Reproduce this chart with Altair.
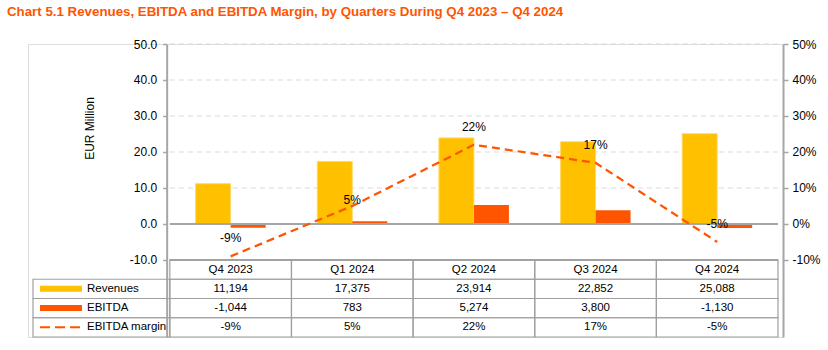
import altair as alt
import pandas as pd

# ---------------- data ----------------
quarters = ["Q4 2023", "Q1 2024", "Q2 2024", "Q3 2024", "Q4 2024"]
revenues = [11194, 17375, 23914, 22852, 25088]      # EUR thousand
ebitda = [-1044, 783, 5274, 3800, -1130]            # EUR thousand
margin = [-9, 5, 22, 17, -5]                        # %
series = ["Revenues", "EBITDA", "EBITDA margin"]
value_ticks = [-10, 0, 10, 20, 30, 40, 50]
title_text = "Chart 5.1 Revenues, EBITDA and EBITDA Margin, by Quarters During Q4 2023 \u2013 Q4 2024"

# ---------------- style / layout ----------------
GOLD = "#FFC000"
ORANGE = "#FF5500"
AXIS_GRAY = "#A6A6A6"
GRID_GRAY = "#D9D9D9"
TABLE_GRAY = "#A0A0A0"
FONT = "Liberation Sans"
TFS = 11.5

W, H = 755, 293
XMIN, XMAX = -1.125, 5          # x in quarter widths; negative part = legend column of table
YMIN, YMAX = -31.4, 50          # value scale continues down through the table
AXIS_OFFSET = -(0 - XMIN) * W / (XMAX - XMIN)
TABLE_TOP = (YMAX - (-10)) / (YMAX - YMIN) * H

xs = alt.Scale(domain=[XMIN, XMAX], nice=False, zero=False)
ys = alt.Scale(domain=[YMIN, YMAX], nice=False, zero=False)

df = pd.DataFrame({
    "quarter": quarters,
    "idx": list(range(len(quarters))),
    "revenues": revenues,
    "ebitda": ebitda,
    "margin": margin,
})

base = alt.Chart(df).transform_calculate(
    xc="datum.idx + 0.5",
    rev_m="datum.revenues / 1000",
    ebit_m="datum.ebitda / 1000",
    mlabel="datum.margin + '%'",
)
X = alt.X("xc:Q", scale=xs, axis=None)

left_axis = alt.Axis(
    values=value_ticks, offset=AXIS_OFFSET, grid=False,
    labelExpr="(datum.value < 0 ? '-' : '') + format(abs(datum.value), '.1f')",
    labelFont=FONT, labelFontSize=12, labelColor="#000000", labelPadding=6,
    tickSize=4, tickColor=AXIS_GRAY, tickWidth=1.5,
    domainColor=AXIS_GRAY, domainWidth=2,
    title="EUR Million", titleFont=FONT, titleFontSize=12, titleFontWeight="normal",
    titleColor="#000000", titleX=-77, titleY=84, titleAngle=270,
    titleBaseline="middle", titleAlign="center",
)
right_axis = alt.Axis(
    orient="right", values=value_ticks, grid=False,
    labelExpr="datum.value + '%'",
    labelFont=FONT, labelFontSize=12, labelColor="#000000", labelPadding=4,
    tickSize=5, tickColor=AXIS_GRAY, tickWidth=1.5,
    domainColor=AXIS_GRAY, domainWidth=2, title=None,
)

ticks_df = pd.DataFrame({"v": value_ticks})
grid_dashed = alt.Chart(ticks_df).transform_filter("datum.v > 0").mark_rule(
    color=GRID_GRAY, strokeDash=[5, 4], strokeWidth=1.2
).encode(
    y=alt.Y("v:Q", scale=ys, axis=left_axis),
    x=alt.X(datum=0, type="quantitative", scale=xs, axis=None),
    x2=alt.datum(5),
)
grid_solid = alt.Chart(ticks_df).transform_filter("datum.v <= 0").mark_rule(
    color=AXIS_GRAY, strokeWidth=2
).encode(
    y=alt.Y("v:Q", scale=ys),
    x=alt.X(datum=0, type="quantitative", scale=xs, axis=None),
    x2=alt.datum(5),
)

bars_rev = base.mark_bar(width=35, xOffset=-17.5, color=GOLD, stroke="#FFD966", strokeWidth=1).encode(
    x=X, y=alt.Y("rev_m:Q", scale=ys), y2=alt.datum(0)
)
bars_ebit = base.mark_bar(width=35, xOffset=17.5, color=ORANGE).encode(
    x=X, y=alt.Y("ebit_m:Q", scale=ys), y2=alt.datum(0)
)

left_group = alt.layer(grid_dashed, bars_rev, bars_ebit, grid_solid)

line = base.mark_line(color=ORANGE, strokeDash=[8, 5], strokeWidth=2.25).encode(
    x=X, y=alt.Y("margin:Q", scale=ys, axis=right_axis)
)
labels_main = base.transform_filter("datum.idx != 1").mark_text(
    dy=-18, font=FONT, fontSize=12, color="#000000"
).encode(x=X, y=alt.Y("margin:Q", scale=ys), text="mlabel:N")
labels_q1 = base.transform_filter("datum.idx == 1").mark_text(
    dy=-6, font=FONT, fontSize=12, color="#000000"
).encode(x=X, y=alt.Y("margin:Q", scale=ys), text="mlabel:N")

right_group = alt.layer(line, labels_main, labels_q1)

# ---------------- data table ----------------
rows = ["head"] + series
ty = alt.Scale(domain=rows, range=[TABLE_TOP, H], paddingInner=0, paddingOuter=0)

long_rows = []
for i, q in enumerate(quarters):
    long_rows.append({"quarter": q, "idx": i, "row": "head", "value": 0})
    long_rows.append({"quarter": q, "idx": i, "row": "Revenues", "value": revenues[i]})
    long_rows.append({"quarter": q, "idx": i, "row": "EBITDA", "value": ebitda[i]})
    long_rows.append({"quarter": q, "idx": i, "row": "EBITDA margin", "value": margin[i]})
table_df = pd.DataFrame(long_rows)

tbase = alt.Chart(table_df).transform_calculate(
    x0="datum.idx", x1="datum.idx + 1", xc="datum.idx + 0.5",
    txt="datum.row == 'head' ? datum.quarter : (datum.row == 'EBITDA margin' ? datum.value + '%' : "
        "(datum.value < 0 ? '-' : '') + format(abs(datum.value), ','))",
)
cells = tbase.mark_rect(fillOpacity=0, stroke=TABLE_GRAY, strokeWidth=1.2).encode(
    x=alt.X("x0:Q", scale=xs, axis=None), x2="x1:Q",
    y=alt.Y("row:N", scale=ty, axis=None),
)
cell_text = tbase.mark_text(font=FONT, fontSize=TFS, color="#000000").encode(
    x=alt.X("xc:Q", scale=xs, axis=None),
    y=alt.Y("row:N", scale=ty, axis=None),
    text="txt:N",
)

legend_df = pd.DataFrame({"row": series})
lbase = alt.Chart(legend_df)
leg_cells = lbase.mark_rect(fillOpacity=0, stroke=TABLE_GRAY, strokeWidth=1.2).encode(
    x=alt.X(datum=XMIN, type="quantitative", scale=xs, axis=None), x2=alt.datum(0),
    y=alt.Y("row:N", scale=ty, axis=None),
)
leg_text = lbase.mark_text(align="left", dx=54, font=FONT, fontSize=TFS, color="#000000").encode(
    x=alt.X(datum=XMIN, type="quantitative", scale=xs, axis=None),
    y=alt.Y("row:N", scale=ty, axis=None),
    text="row:N",
)
def swatch(name, color, width, dash=None):
    kw = dict(color=color, strokeWidth=width, xOffset=7, x2Offset=49)
    if dash:
        kw["strokeDash"] = dash
    return lbase.transform_filter(alt.datum.row == name).mark_rule(**kw).encode(
        x=alt.X(datum=XMIN, type="quantitative", scale=xs, axis=None),
        x2=alt.datum(XMIN),
        y=alt.Y("row:N", scale=ty, axis=None),
    )

table_group = alt.layer(
    cells, cell_text, leg_cells, leg_text,
    swatch("Revenues", GOLD, 6), swatch("EBITDA", ORANGE, 6),
    swatch("EBITDA margin", ORANGE, 2, [10, 5]),
)

chart = alt.layer(left_group, right_group, table_group).resolve_scale(y="independent").properties(
    width=W, height=H,
    autosize=alt.AutoSizeParams(type="none"),
    padding={"left": 28, "top": 44, "right": 45, "bottom": 13},
    title=alt.TitleParams(
        text=title_text, anchor="start", frame="group", font=FONT, fontSize=13.3,
        fontWeight="bold", color=ORANGE, dx=-21, offset=20,
    ),
).configure_view(stroke=None).configure(background="#ffffff")

chart.save("out.html", embed_options={"renderer": "svg", "actions": False})
